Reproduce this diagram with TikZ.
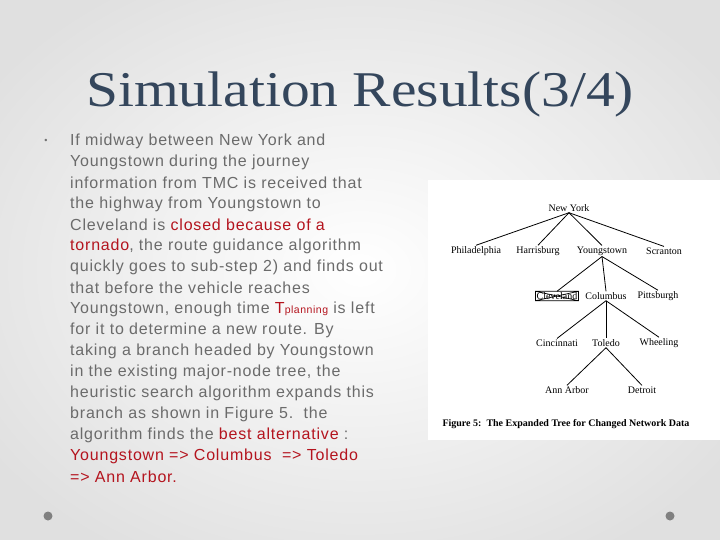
\documentclass[tikz,border=0pt]{standalone}
\usepackage{fontspec}
\setmainfont{Liberation Serif}
\setsansfont{Liberation Sans}[LetterSpace=5]
\begin{document}
\begin{tikzpicture}[x=1pt,y=-1pt,
  body/.style={anchor=west,inner sep=0pt,font=\sffamily\fontsize{16}{18}\selectfont,text=black!58},
  tn/.style={inner sep=1pt,font=\fontsize{10}{11}\selectfont},
  edge/.style={line width=0.8pt}]
\definecolor{hl}{RGB}{180,20,30}
\definecolor{ttl}{RGB}{52,70,92}
\useasboundingbox (0,0) rectangle (720,540);
\shade[inner color=white,outer color=black!12] (-80,-60) rectangle (800,600);
\fill[white] (428,180) rectangle (720,440);
\node[font=\fontsize{50}{52}\selectfont,text=ttl,xscale=1.15] (title) at (360,94) {Simulation Results(3/4)};
\node[text=black!55,font=\sffamily\small] (bul) at (46,141) {•};
\node[body] (l1) at (70,141) {If midway between New York and};
\node[body] (l2) at (70,162) {Youngstown during the journey};
\node[body] (l3) at (70,183) {information from TMC is received that};
\node[body] (l4) at (70,204) {the highway from Youngstown to};
\node[body] (l5) at (70,225) {Cleveland is \textcolor{hl}{closed because of a}};
\node[body] (l6) at (70,246) {\textcolor{hl}{tornado}, the route guidance algorithm};
\node[body] (l7) at (70,267) {quickly goes to sub-step 2) and finds out};
\node[body] (l8) at (70,288) {that before the vehicle reaches};
\node[body] (l9) at (70,309) {Youngstown, enough time \textcolor{hl}{T{\fontsize{10.5}{12}\selectfont planning}} is left};
\node[body] (l10) at (70,330) {for it to determine a new route. By};
\node[body] (l11) at (70,351) {taking a branch headed by Youngstown};
\node[body] (l12) at (70,372) {in the existing major-node tree, the};
\node[body] (l13) at (70,393) {heuristic search algorithm expands this};
\node[body] (l14) at (70,414) {branch as shown in Figure 5.\ \ the};
\node[body] (l15) at (70,435) {algorithm finds the \textcolor{hl}{best alternative} :};
\node[body,text=hl] (l16) at (70,456) {Youngstown => Columbus\ \ => Toledo};
\node[body,text=hl] (l17) at (70,477) {=> Ann Arbor.};
\fill[black!50] (48,516) circle (4.5);
\fill[black!50] (670,516) circle (4.5);
% tree
\node[tn] (ny) at (569,208) {New York};
\node[tn] (ph) at (476,251) {Philadelphia};
\node[tn] (ha) at (538,251) {Harrisburg};
\node[tn] (yo) at (602,251) {Youngstown};
\node[tn] (sc) at (664,251) {Scranton};
\node[tn] (cl) at (557,296) {Cleveland};
\node[tn] (co) at (606,296) {Columbus};
\node[tn] (pi) at (658,296) {Pittsburgh};
\node[tn] (ci) at (557,343) {Cincinnati};
\node[tn] (to) at (606,343) {Toledo};
\node[tn] (wh) at (659,343) {Wheeling};
\node[tn] (aa) at (567,390) {Ann Arbor};
\node[tn] (de) at (642,390) {Detroit};
\draw[line width=0.7pt] (cl.south west) rectangle (cl.north east) (cl.south west) -- (cl.north east) (cl.north west) -- (cl.south east);
\draw[edge] (ny.south) -- (ph.north);
\draw[edge] (ny.south) -- (ha.north);
\draw[edge] (ny.south) -- (yo.north);
\draw[edge] (ny.south) -- (sc.north);
\draw[edge] (yo.south) -- (cl.north);
\draw[edge] (yo.south) -- (co.north);
\draw[edge] (yo.south) -- (pi.north);
\draw[edge] (co.south) -- (ci.north);
\draw[edge] (co.south) -- (to.north);
\draw[edge] (co.south) -- (wh.north);
\draw[edge] (to.south) -- (aa.north);
\draw[edge] (to.south) -- (de.north);
\node[tn,font=\bfseries\fontsize{10}{11}\selectfont] (cap) at (566,424) {Figure 5:\ \ The Expanded Tree for Changed Network Data};
\end{tikzpicture}
\end{document}
